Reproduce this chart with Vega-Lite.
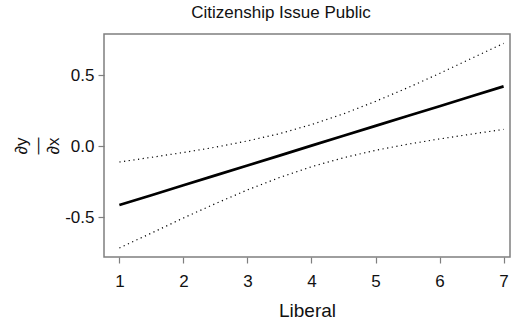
{
  "$schema": "https://vega.github.io/schema/vega-lite/v6.json",
  "autosize": {"type": "none"},
  "width": 406,
  "height": 223,
  "padding": {"left": 104, "top": 34, "right": 1, "bottom": 65},
  "background": "white",
  "title": {
    "text": "Citizenship Issue Public",
    "font": "Liberation Sans",
    "fontSize": 17,
    "fontWeight": "normal",
    "color": "#111111",
    "anchor": "middle",
    "frame": "group",
    "dx": -26,
    "offset": 12
  },
  "config": {
    "view": {"stroke": "#7f7f7f", "strokeWidth": 1.5},
    "axis": {
      "grid": false,
      "domain": false,
      "tickColor": "#7f7f7f",
      "tickWidth": 1.2,
      "tickSize": 6,
      "labelFont": "Liberation Sans",
      "labelFontSize": 17,
      "labelColor": "#111111",
      "titleFont": "Liberation Sans",
      "titleFontWeight": "normal",
      "titleColor": "#111111"
    }
  },
  "data": {
    "values": [
      {"x": 1, "est": -0.413, "upper": -0.111, "lower": -0.715},
      {"x": 1.5, "est": -0.344, "upper": -0.078, "lower": -0.610},
      {"x": 2, "est": -0.274, "upper": -0.044, "lower": -0.504},
      {"x": 2.5, "est": -0.205, "upper": -0.007, "lower": -0.403},
      {"x": 3, "est": -0.135, "upper": 0.037, "lower": -0.307},
      {"x": 3.5, "est": -0.066, "upper": 0.088, "lower": -0.220},
      {"x": 4, "est": 0.004, "upper": 0.152, "lower": -0.144},
      {"x": 4.5, "est": 0.073, "upper": 0.227, "lower": -0.081},
      {"x": 5, "est": 0.143, "upper": 0.315, "lower": -0.029},
      {"x": 5.5, "est": 0.212, "upper": 0.410, "lower": 0.014},
      {"x": 6, "est": 0.281, "upper": 0.511, "lower": 0.051},
      {"x": 6.5, "est": 0.351, "upper": 0.617, "lower": 0.085},
      {"x": 7, "est": 0.420, "upper": 0.722, "lower": 0.118}
    ]
  },
  "encoding": {
    "x": {
      "field": "x",
      "type": "quantitative",
      "scale": {"domain": [0.76, 7.1], "nice": false, "zero": false},
      "axis": {
        "values": [1, 2, 3, 4, 5, 6, 7],
        "title": "Liberal",
        "titleFontSize": 19,
        "labelPadding": 10,
        "titlePadding": 12,
        "labelFlush": false
      }
    }
  },
  "layer": [
    {
      "mark": {"type": "line", "color": "black", "strokeWidth": 1.2, "strokeDash": [1.2, 3.5]},
      "encoding": {
        "y": {
          "field": "upper",
          "type": "quantitative",
          "scale": {"domain": [-0.778, 0.788], "nice": false, "zero": false},
          "axis": {
            "values": [-0.5, 0, 0.5],
            "labelExpr": "replace(format(datum.value, '.1f'), '\u2212', '-')",
            "labelPadding": 4,
            "title": ["\u2202y", "\u2014", "\u2202x"],
            "titleFontSize": 17,
            "titleLineHeight": 16,
            "titlePadding": 2,
            "labelFlush": false
          }
        }
      }
    },
    {
      "mark": {"type": "line", "color": "black", "strokeWidth": 1.2, "strokeDash": [1.2, 3.5]},
      "encoding": {"y": {"field": "lower", "type": "quantitative"}}
    },
    {
      "mark": {"type": "line", "color": "black", "strokeWidth": 2.7},
      "encoding": {"y": {"field": "est", "type": "quantitative"}}
    }
  ]
}
